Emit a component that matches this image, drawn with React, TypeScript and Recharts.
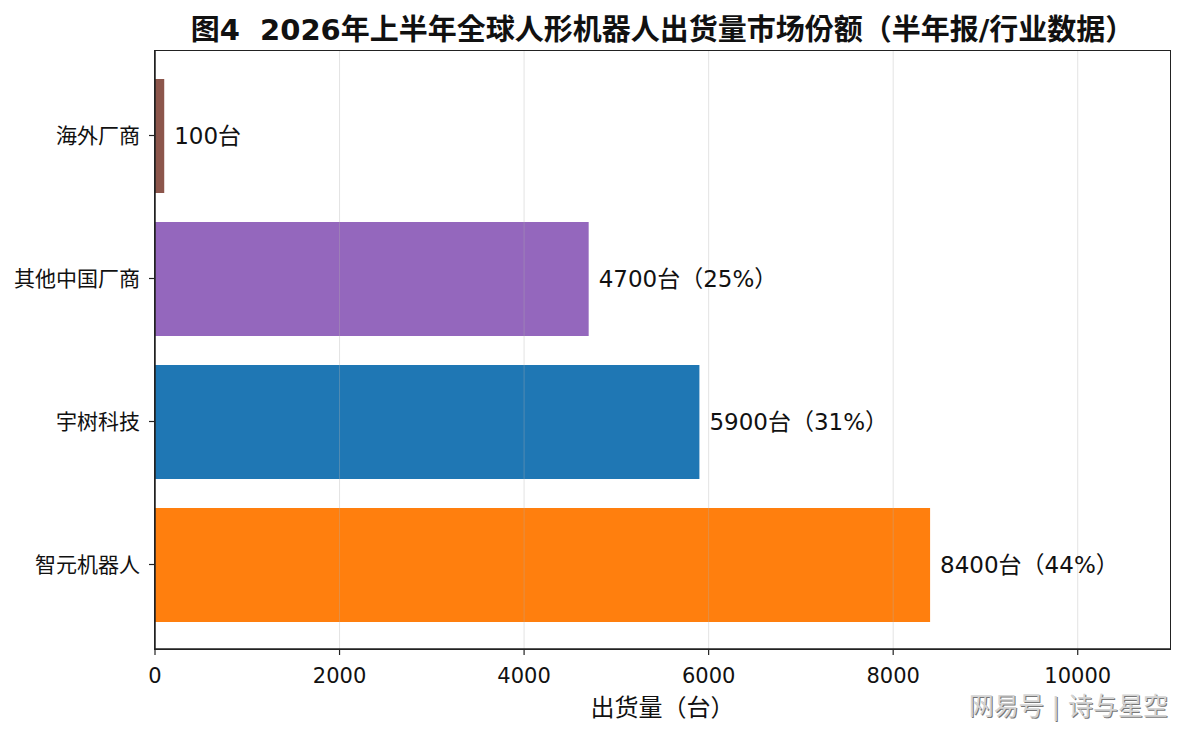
import { BarChart, Bar, XAxis, YAxis, Cell, LabelList, ReferenceLine } from "recharts";

// bars top to bottom
const makers = ["海外厂商", "其他中国厂商", "宇树科技", "智元机器人"];
const units = [100, 4700, 5900, 8400];
const shares = [null, 25, 31, 44];
const barColors = ["#8c564b", "#9467bd", "#1f77b4", "#ff7f0e"];
const xTicks = [0, 2000, 4000, 6000, 8000, 10000];

const data = makers.map((name, i) => ({
  name,
  units: units[i],
  label: shares[i] == null ? `${units[i]}台` : `${units[i]}台（${shares[i]}%）`,
}));

const FONT = '"DejaVu Sans", "Noto Sans CJK JP", sans-serif';
const W = 1185;
const H = 734;
const PLOT = { left: 155, top: 51, right: 1170, bottom: 649 };

const App = () => {
  return (
    <div style={{ position: "absolute", left: 0, top: 0, width: W, height: H, background: "#fff", fontFamily: FONT }}>
      {/* Title */}
      <div
        style={{
          position: "absolute",
          left: PLOT.left,
          width: PLOT.right - PLOT.left,
          top: 12,
          textAlign: "center",
          fontSize: 29,
          fontWeight: "bold",
          color: "#111",
          lineHeight: "36px",
          whiteSpace: "pre",
        }}
      >
        {"图4  2026年上半年全球人形机器人出货量市场份额（半年报/行业数据）"}
      </div>

      <BarChart
        layout="vertical"
        width={W}
        height={H}
        data={data}
        margin={{ top: PLOT.top, right: W - PLOT.right, left: 0, bottom: 0 }}
        barCategoryGap={0}
      >
        <XAxis
          type="number"
          dataKey="units"
          domain={[0, 11000]}
          ticks={xTicks}
          height={H - PLOT.bottom}
          tickSize={6}
          tickMargin={13}
          tick={{ fontSize: 21, fill: "#111", fontFamily: FONT }}
          axisLine={{ stroke: "#222", strokeWidth: 1.5 }}
          tickLine={{ stroke: "#222", strokeWidth: 1.2 }}
          label={{ value: "出货量（台）", position: "insideBottom", offset: 18, fontSize: 24, fill: "#111", fontFamily: FONT }}
        />
        <YAxis
          type="category"
          dataKey="name"
          width={PLOT.left}
          padding={{ top: 13, bottom: 13 }}
          tickSize={6}
          tickMargin={9}
          tick={{ fontSize: 21, fill: "#111", fontFamily: FONT }}
          axisLine={{ stroke: "#222", strokeWidth: 1.5 }}
          tickLine={{ stroke: "#222", strokeWidth: 1.2 }}
        />
        <Bar dataKey="units" barSize={114} isAnimationActive={false}>
          {data.map((d, i) => (
            <Cell key={d.name} fill={barColors[i]} />
          ))}
          <LabelList
            dataKey="label"
            position="right"
            offset={10}
            style={{ fontSize: 23, fill: "#111", fontFamily: FONT }}
          />
        </Bar>
        {xTicks.slice(1).map((t) => (
          <ReferenceLine key={t} x={t} stroke="#b0b0b0" strokeOpacity={0.35} strokeWidth={1} />
        ))}
      </BarChart>

      {/* frame */}
      <div
        style={{
          position: "absolute",
          left: PLOT.left - 0.75,
          top: PLOT.top - 0.75,
          width: PLOT.right - PLOT.left + 1.5,
          height: PLOT.bottom - PLOT.top + 1.5,
          border: "1.5px solid #222",
          boxSizing: "border-box",
          pointerEvents: "none",
        }}
      />

      {/* watermark */}
      <div
        style={{
          position: "absolute",
          right: 17,
          top: 692,
          fontSize: 25,
          color: "#d4d4d4",
          textShadow: "1px 1px 0 #777",
          whiteSpace: "pre",
          lineHeight: "29px",
        }}
      >
        {"网易号 | 诗与星空"}
      </div>
    </div>
  );
};

export default App;
